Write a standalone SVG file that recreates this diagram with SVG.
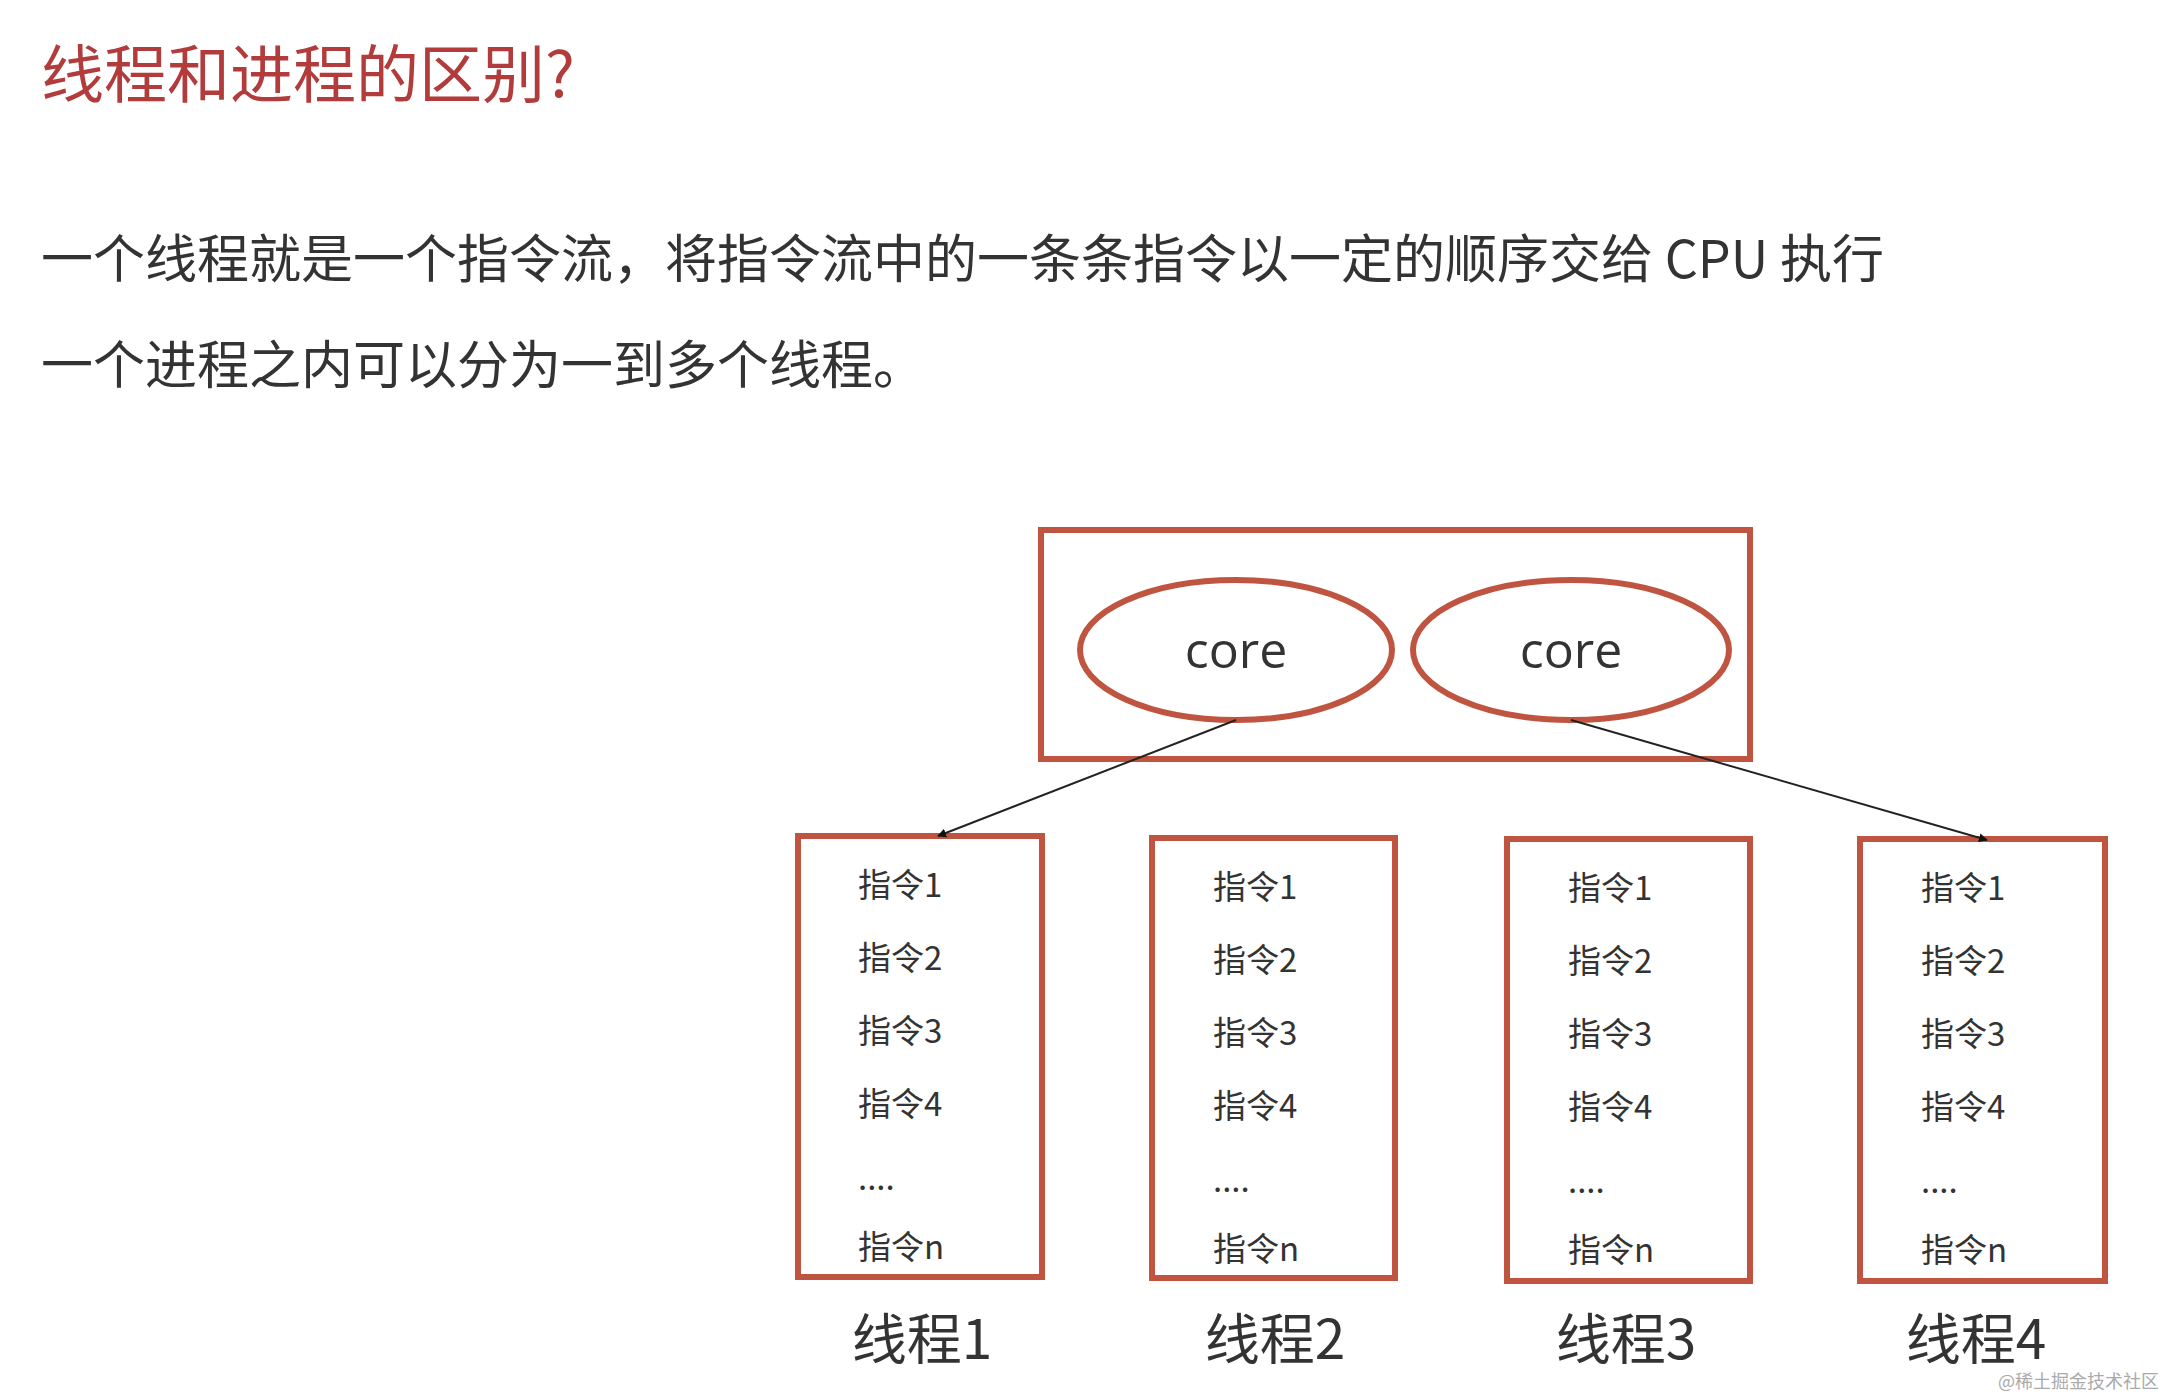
<svg xmlns="http://www.w3.org/2000/svg" width="2164" height="1398" viewBox="0 0 2164 1398">
<style>
.box{fill:none;stroke:#bf5540;stroke-width:6}
.t{font-family:"Noto Sans CJK SC","Liberation Sans",sans-serif;fill:#333}
.i{font-size:33px}
.lbl{font-size:55px;text-anchor:middle}
.core{font-family:"Open Sans","Liberation Sans",sans-serif;font-size:50px;fill:#333;text-anchor:middle}
.c{stroke:#222;stroke-width:2;fill:none;marker-end:url(#a)}
</style>
<defs><marker id="a" viewBox="0 0 10 10" refX="9" refY="5" markerWidth="9" markerHeight="9" markerUnits="userSpaceOnUse" orient="auto"><path d="M0,0L10,5L0,10z" fill="#111"/></marker></defs>
<rect width="2164" height="1398" fill="#fff"/>
<text class="t" x="41" y="97" font-size="63" fill="#b23c3c" style="fill:#b23c3c">线程和进程的区别?</text>
<text class="t" x="41" y="278" font-size="52">一个线程就是一个指令流，将指令流中的一条条指令以一定的顺序交给 CPU 执行</text>
<text class="t" x="41" y="384" font-size="52">一个进程之内可以分为一到多个线程。</text>
<g id="cpu">
<rect class="box" x="1041" y="530" width="709" height="229"/>
</g>
<g id="core1"><ellipse class="box" cx="1236" cy="650" rx="156" ry="70"/><text class="core" x="1236" y="668">core</text></g>
<g id="core2"><ellipse class="box" cx="1571" cy="650" rx="158" ry="70"/><text class="core" x="1571" y="668">core</text></g>
<g id="t1"><rect class="box" x="798" y="836" width="244" height="441"/>
<g class="t i"><text x="858" y="897">指令1</text><text x="858" y="970">指令2</text><text x="858" y="1043">指令3</text><text x="858" y="1116">指令4</text><text x="858" y="1190">....</text><text x="858" y="1259">指令n</text></g>
<text class="t lbl" x="922" y="1359">线程1</text></g>
<g id="t2"><rect class="box" x="1152" y="838" width="243" height="440"/>
<g class="t i"><text x="1213" y="899">指令1</text><text x="1213" y="972">指令2</text><text x="1213" y="1045">指令3</text><text x="1213" y="1118">指令4</text><text x="1213" y="1192">....</text><text x="1213" y="1261">指令n</text></g>
<text class="t lbl" x="1275" y="1359">线程2</text></g>
<g id="t3"><rect class="box" x="1507" y="839" width="243" height="442"/>
<g class="t i"><text x="1568" y="900">指令1</text><text x="1568" y="973">指令2</text><text x="1568" y="1046">指令3</text><text x="1568" y="1119">指令4</text><text x="1568" y="1193">....</text><text x="1568" y="1262">指令n</text></g>
<text class="t lbl" x="1626" y="1359">线程3</text></g>
<g id="t4"><rect class="box" x="1860" y="839" width="245" height="442"/>
<g class="t i"><text x="1921" y="900">指令1</text><text x="1921" y="973">指令2</text><text x="1921" y="1046">指令3</text><text x="1921" y="1119">指令4</text><text x="1921" y="1193">....</text><text x="1921" y="1262">指令n</text></g>
<text class="t lbl" x="1976" y="1359">线程4</text></g>
<g id="connectors">
<line class="c" x1="1236" y1="720" x2="938" y2="836"/>
<line class="c" x1="1571" y1="720" x2="1987" y2="840"/>
</g>
<text x="1998" y="1388" font-family="Noto Sans CJK SC,sans-serif" font-size="18" fill="#aaa">@稀土掘金技术社区</text>
</svg>
